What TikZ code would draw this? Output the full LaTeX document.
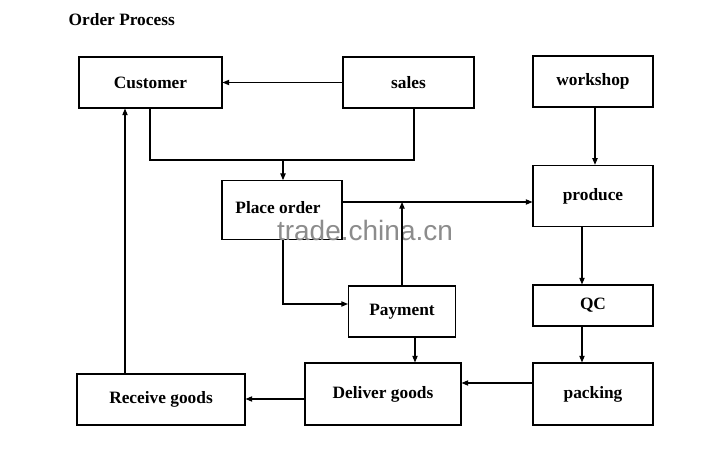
\documentclass[tikz,border=0pt]{standalone}
\usepackage{fontspec}
\setmainfont{Liberation Serif}
\newfontfamily\wmfont{Liberation Sans}
\usetikzlibrary{arrows.meta}
\begin{document}
\begin{tikzpicture}[x=0.75pt,y=-0.75pt,
  txt/.style={font=\fontsize{13}{15}\selectfont\bfseries},
  box/.style={draw,line width=0.8pt,inner sep=0pt,txt},
  arr/.style={line width=0.8pt,-{Triangle[length=5pt,width=4pt]}},
  ln/.style={line width=0.8pt}]
\useasboundingbox (0,0) rectangle (728,473);
\node[anchor=west,txt] (title) at (64,20) {Order Process};
\node[box,minimum width=107.25pt,minimum height=38.25pt] (cust) at (150.5,82.5) {Customer};
\node[box,minimum width=98.25pt,minimum height=38.25pt] (sales) at (408.5,82.5) {sales};
\node[box,minimum width=90pt,minimum height=38.25pt] (work) at (593,81.5) {workshop};
\node[box,minimum width=90pt,minimum height=44pt] (place) at (282,210) {};
\node[txt] (placet) at (278,208) {Place order};
\node[box,minimum width=90pt,minimum height=46pt] (prod) at (593,196) {produce};
\node[box,minimum width=80.25pt,minimum height=38.25pt] (pay) at (402,311.5) {Payment};
\node[box,minimum width=90pt,minimum height=30.75pt] (qc) at (593,305.5) {QC};
\node[box,minimum width=90pt,minimum height=46.5pt] (pack) at (593,394) {packing};
\node[box,minimum width=117pt,minimum height=46.5pt] (deliv) at (383,394) {Deliver goods};
\node[box,minimum width=126pt,minimum height=38.25pt] (recv) at (161,399.5) {Receive goods};
\node[font=\wmfont\fontsize{21}{24}\selectfont,text=black!45] (wm) at (365,230) {trade.china.cn};
\coordinate (j1) at (150,160);
\coordinate (j2) at (414,160);
\coordinate (j3) at (283,160);
\coordinate (j4) at (402,202);
\coordinate (j5) at (283,304);
\coordinate (xw) at (595,0);
\coordinate (xp) at (582,0);
\coordinate (xd) at (415,0);
\coordinate (yp) at (0,383);
\coordinate (yd) at (0,399);
\coordinate (xr) at (125,0);
\draw[arr] (sales.west) -- (cust.east);
\draw[ln] (cust.south -| j1) -- (j1) -- (j2) -- (sales.south -| j2);
\draw[arr] (j3) -- (place.north -| j3);
\draw[arr] (place.east |- j4) -- (prod.west |- j4);
\draw[arr] (pay.north -| j4) -- (j4);
\draw[arr] (place.south -| j5) -- (j5) -- (pay.west |- j5);
\draw[arr] (work.south -| xw) -- (prod.north -| xw);
\draw[arr] (prod.south -| xp) -- (qc.north -| xp);
\draw[arr] (qc.south -| xp) -- (pack.north -| xp);
\draw[arr] (pack.west |- yp) -- (deliv.east |- yp);
\draw[arr] (pay.south -| xd) -- (deliv.north -| xd);
\draw[arr] (deliv.west |- yd) -- (recv.east |- yd);
\draw[arr] (recv.north -| xr) -- (cust.south -| xr);
\end{tikzpicture}
\end{document}
